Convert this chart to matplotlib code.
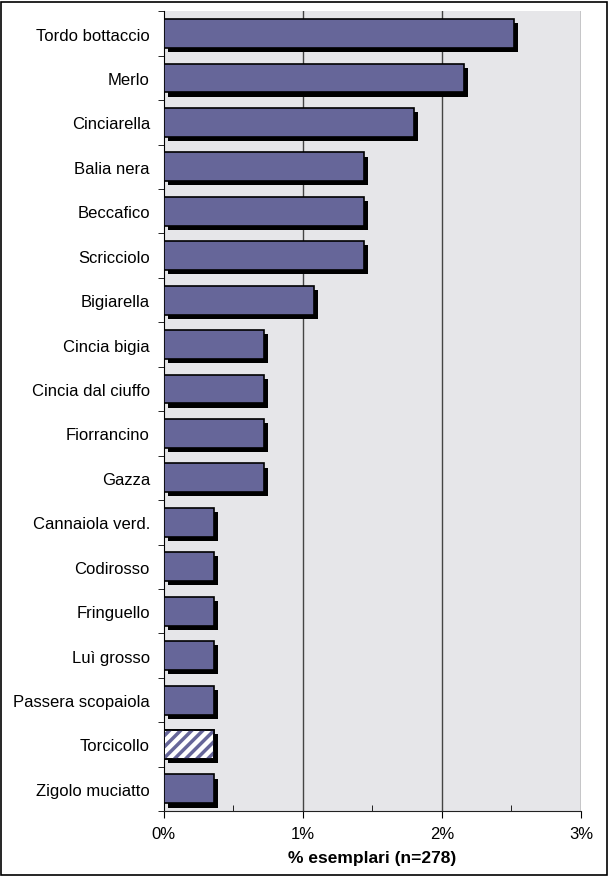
import matplotlib
matplotlib.use("Agg")
import matplotlib.pyplot as plt
import matplotlib.patheffects as pe
from matplotlib.patches import Rectangle
import numpy as np

plt.rcParams['font.family'] = ['Liberation Sans', 'DejaVu Sans']
plt.rcParams['hatch.linewidth'] = 2.5

# species, ordered top to bottom
species = ["Tordo bottaccio", "Merlo", "Cinciarella", "Balia nera", "Beccafico",
           "Scricciolo", "Bigiarella", "Cincia bigia", "Cincia dal ciuffo",
           "Fiorrancino", "Gazza", "Cannaiola verd.", "Codirosso", "Fringuello",
           "Luì grosso", "Passera scopaiola", "Torcicollo", "Zigolo muciatto"]
# number of specimens out of n=278
counts = [7, 6, 5, 4, 4, 4, 3, 2, 2, 2, 2, 1, 1, 1, 1, 1, 1, 1]
n_total = 278
hatched = ["Torcicollo"]

pct = [c / n_total * 100 for c in counts]

fig = plt.figure(figsize=(6.09, 8.78), dpi=100)
ax = fig.add_axes([0.269, 0.075, 0.685, 0.911])

ax.set_facecolor('#e6e6e9')
ypos = np.arange(len(species))
bar_col = '#666699'

shadow = [pe.SimplePatchShadow(offset=(3, -3), shadow_rgbFace='black', alpha=1.0), pe.Normal()]
for y, name, v in zip(ypos, species, pct):
    face = 'white' if name in hatched else bar_col
    b = ax.barh(y, v, height=0.65, color=face, edgecolor='black', linewidth=1.2, zorder=3)
    b[0].set_path_effects(shadow)
    if name in hatched:
        # diagonal stripes on top, then outline again
        ax.barh(y, v, height=0.65, fill=False, edgecolor=bar_col, hatch='///', linewidth=0, zorder=4)
        ax.barh(y, v, height=0.65, fill=False, edgecolor='black', linewidth=1.2, zorder=5)

ax.set_xlim(0, 3)
ax.set_ylim(len(species) - 0.5, -0.5)

ax.set_xticks([0, 1, 2, 3])
ax.set_xticklabels(['0%', '1%', '2%', '3%'], fontsize=12)
ax.set_xticks([0.5, 1.5, 2.5], minor=True)
ax.tick_params(axis='x', which='major', direction='out', length=5, pad=6)
ax.tick_params(axis='x', which='minor', direction='in', length=4)

ax.set_yticks(ypos)
ax.set_yticklabels(species, fontsize=12)
ax.set_yticks(np.arange(-0.5, len(species), 1), minor=True)
ax.tick_params(axis='y', which='major', length=0, pad=10)
ax.tick_params(axis='y', which='minor', direction='out', length=4)

for xv in [1, 2, 3]:
    ax.axvline(xv, color='#444444', linewidth=1, zorder=1)

ax.spines['top'].set_visible(False)
ax.spines['right'].set_visible(False)
ax.spines['left'].set_color('black')
ax.spines['bottom'].set_color('#222222')

ax.set_xlabel('% esemplari (n=278)', fontsize=12.5, fontweight='bold', labelpad=6)

fig.patches.append(Rectangle((0.002, 0.002), 0.995, 0.995, transform=fig.transFigure,
                             fill=False, edgecolor='black', linewidth=1.2))

fig.savefig('out.png', dpi=100)
